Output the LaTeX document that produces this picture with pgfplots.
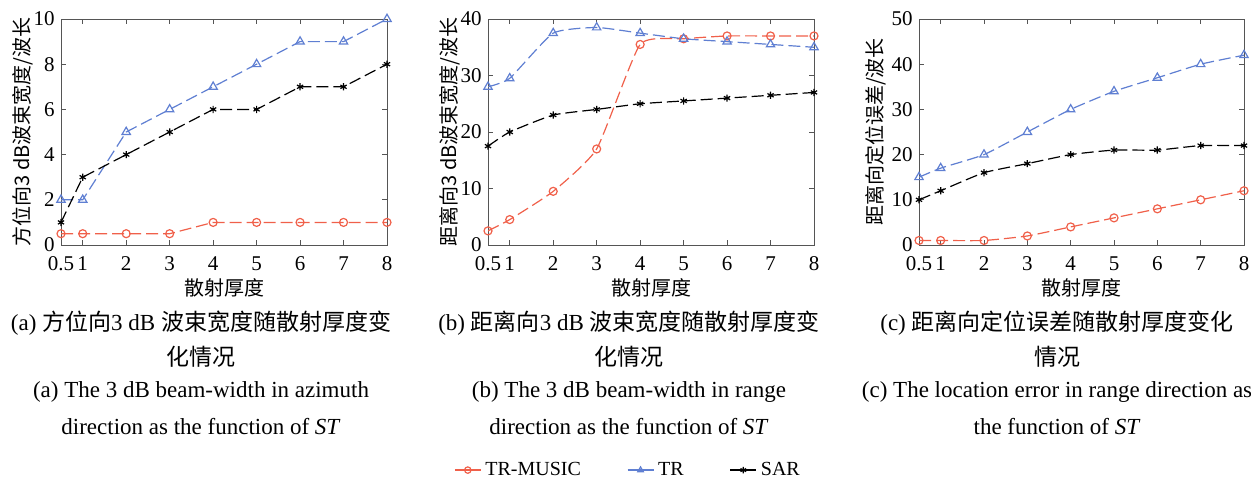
\documentclass[border=0pt]{standalone}
\usepackage{fontspec}
\setmainfont{Liberation Serif}
\newfontfamily\cjk{Noto Sans CJK SC}
\usepackage{pgfplots}
\pgfplotsset{compat=1.18}

\definecolor{musicred}{HTML}{F0604A}
\definecolor{trblue}{HTML}{5F7FD2}
\definecolor{framegray}{HTML}{555555}

\newcommand{\capfont}{\fontsize{11.5}{13}\selectfont}

\pgfplotsset{
  panel/.style={
    scale only axis, width=163pt, height=113pt,
    xmin=0.5, xmax=8, ymin=0,
    xtick={0.5,1,2,3,4,5,6,7,8},
    xticklabels={0.5,1,2,3,4,5,6,7,8},
    tick align=inside, major tick length=2.5pt,
    axis line style={framegray, line width=0.5pt},
    every tick/.style={framegray, line width=0.5pt},
    tick label style={font=\fontsize{10.5}{12}\selectfont, inner sep=0.5pt},
    xticklabel style={yshift=-5pt},
    yticklabel style={xshift=-2.5pt},
    /pgf/number format/assume math mode=true,
    xlabel={\cjk 散射厚度},
    xlabel style={font=\fontsize{10}{12}\selectfont,
      at={(axis description cs:0.5,-0.19)}, anchor=center},
    ylabel style={font=\fontsize{10}{12}\selectfont, anchor=center},
  },
  musicstyle/.style={color=musicred, line width=0.6pt,
    dash pattern=on 6pt off 2.5pt, mark=o, mark size=2pt,
    mark options={solid}, smooth, tension=0.3},
  trstyle/.style={color=trblue, line width=0.6pt,
    dash pattern=on 6pt off 2.5pt, mark=triangle, mark size=2.4pt,
    mark options={solid}, smooth, tension=0.3},
  sarstyle/.style={color=black, line width=0.6pt,
    dash pattern=on 6pt off 2.5pt, mark=asterisk, mark size=1.8pt,
    mark options={solid}, smooth, tension=0.3},
}

\begin{document}
\begin{tikzpicture}
\useasboundingbox (0,0) rectangle (625.5pt,239pt);

% (a) azimuth 3 dB beam-width
\begin{axis}[panel, at={(30.5pt,116.5pt)}, anchor=south west,
  ymax=10, ytick={0,2,4,6,8,10},
  ylabel={\cjk 方位向3 dB波束宽度/波长},
  ylabel style={at={(axis description cs:-0.117,0.5)}}]
\addplot[musicstyle, sharp plot] coordinates {(0.5,0.5) (1,0.5) (2,0.5) (3,0.5) (4,1) (5,1) (6,1) (7,1) (8,1)};
\addplot[trstyle, sharp plot] coordinates {(0.5,2) (1,2) (2,5) (3,6) (4,7) (5,8) (6,9) (7,9) (8,10)};
\addplot[sarstyle, sharp plot] coordinates {(0.5,1) (1,3) (2,4) (3,5) (4,6) (5,6) (6,7) (7,7) (8,8)};
\end{axis}

% (b) range 3 dB beam-width
\begin{axis}[panel, at={(244pt,116.5pt)}, anchor=south west,
  ymax=40, ytick={0,10,20,30,40},
  ylabel={\cjk 距离向3 dB波束宽度/波长},
  ylabel style={at={(axis description cs:-0.117,0.5)}},
  legend columns=3,
  legend style={at={(axis description cs:0.4325,-0.996)}, anchor=center,
    draw=none, fill=none, font=\fontsize{10}{12}\selectfont,
    inner sep=0pt,
    /tikz/every even column/.append style={column sep=21pt}},
  legend image code/.code={%
    \draw[solid, mark repeat=2, mark phase=2, mark size=1.6pt]
      plot coordinates {(0pt,0pt) (6.5pt,0pt) (13pt,0pt)};}]
\addplot[musicstyle] coordinates {(0.5,2.5) (1,4.5) (2,9.5) (3,17) (4,35.5) (5,36.5) (6,37) (7,37) (8,37)};
\addplot[trstyle] coordinates {(0.5,28) (1,29.5) (2,37.5) (3,38.5) (4,37.5) (5,36.5) (6,36) (7,35.5) (8,35)};
\addplot[sarstyle] coordinates {(0.5,17.5) (1,20) (2,23) (3,24) (4,25) (5,25.5) (6,26) (7,26.5) (8,27)};
\legend{TR-MUSIC, TR, SAR}
\end{axis}

% (c) range location error
\begin{axis}[panel, width=162.5pt, at={(459.5pt,116.5pt)}, anchor=south west,
  ymax=50, ytick={0,10,20,30,40,50},
  ylabel={\cjk 距离向定位误差/波长},
  ylabel style={at={(axis description cs:-0.132,0.5)}}]
\addplot[musicstyle] coordinates {(0.5,1) (1,1) (2,1) (3,2) (4,4) (5,6) (6,8) (7,10) (8,12)};
\addplot[trstyle] coordinates {(0.5,15) (1,17) (2,20) (3,25) (4,30) (5,34) (6,37) (7,40) (8,42)};
\addplot[sarstyle] coordinates {(0.5,10) (1,12) (2,16) (3,18) (4,20) (5,21) (6,21) (7,22) (8,22)};
\end{axis}

% sub-figure captions
\begin{scope}[every node/.style={font=\capfont, inner sep=0pt, anchor=center}]
\node at (100.5pt,77.5pt) {(a) {\cjk 方位向}3 dB {\cjk 波束宽度随散射厚度变}};
\node at (100.5pt,60.5pt) {\cjk 化情况};
\node at (100.5pt,43pt) {(a) The 3 dB beam-width in azimuth};
\node at (100.5pt,25.5pt) {direction as the function of \textit{ST}};

\node at (314.5pt,77.5pt) {(b) {\cjk 距离向}3 dB {\cjk 波束宽度随散射厚度变}};
\node at (314.5pt,60.5pt) {\cjk 化情况};
\node at (314.5pt,43pt) {(b) The 3 dB beam-width in range};
\node at (314.5pt,25.5pt) {direction as the function of \textit{ST}};

\node at (528.5pt,77.5pt) {(c) {\cjk 距离向定位误差随散射厚度变化}};
\node at (528.5pt,60.5pt) {\cjk 情况};
\node at (528.5pt,43pt) {(c) The location error in range direction as};
\node at (528.5pt,25.5pt) {the function of \textit{ST}};
\end{scope}
\end{tikzpicture}
\end{document}
